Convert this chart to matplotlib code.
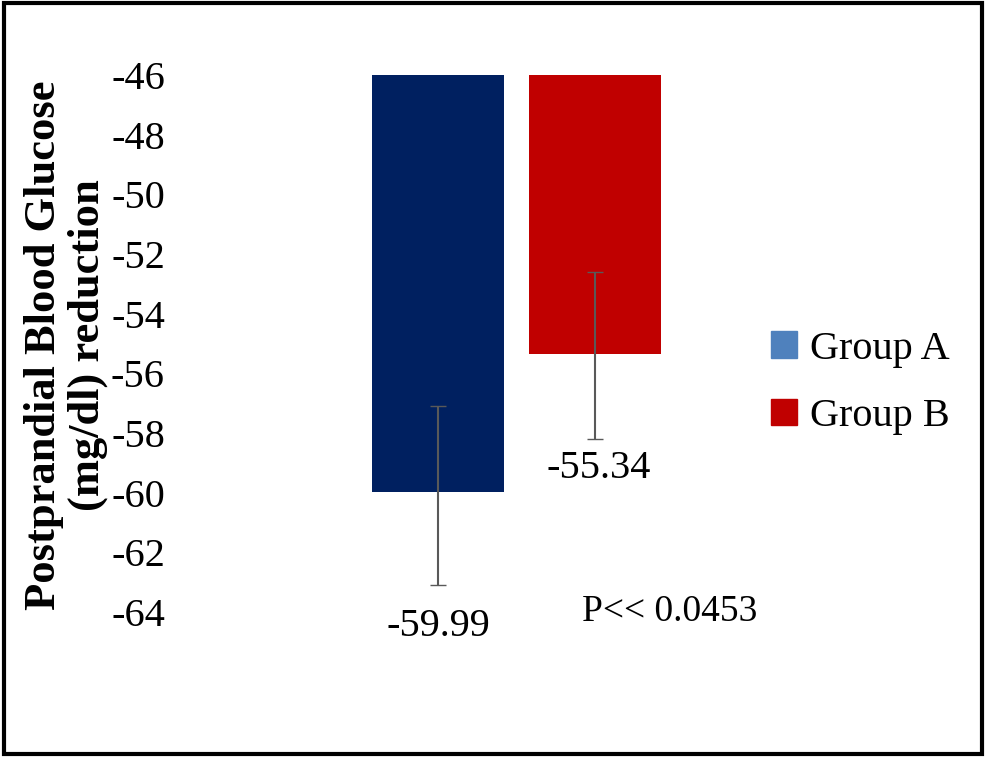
import matplotlib.pyplot as plt
from matplotlib.patches import Rectangle, Patch

groups = ["Group A", "Group B"]
means = [-59.99, -55.34]
err_low = [-63.1, -58.2]
err_high = [-57.1, -52.6]
labels = ["-59.99", "-55.34"]
colors = ["#002060", "#C00000"]
legend_colors = ["#4F81BD", "#C00000"]
yticks = list(range(-64, -45, 2))

W, H = 986, 757
fig = plt.figure(figsize=(W / 100, H / 100), dpi=100)
plt.rcParams['font.family'] = ['Liberation Serif', 'DejaVu Serif']

# outer black frame
fig.patches.append(Rectangle((0.004, 0.004), 0.992, 0.992, transform=fig.transFigure,
                             fill=False, lw=3, ec="black"))

ax = fig.add_axes([190 / W, 1 - 612 / H, 530 / W, (612 - 75) / H])
xpos = [248, 405]
top = -46
for i in range(2):
    ax.bar(xpos[i], means[i] - top, bottom=top, width=132, color=colors[i])
    ax.errorbar(xpos[i], (err_low[i] + err_high[i]) / 2,
                yerr=(err_high[i] - err_low[i]) / 2, fmt="none",
                ecolor="#595959", elinewidth=1.5, capsize=6)
ax.text(xpos[0], -64.5, labels[0], ha="center", va="center", fontsize=29)
ax.text(xpos[1] + 4, -59.2, labels[1], ha="center", va="center", fontsize=29)
ax.text(480, -64.0, "P<< 0.0453", ha="center", va="center", fontsize=27)

ax.set_xlim(0, 530)
ax.set_ylim(-64, -46)
ax.set_yticks(yticks)
ax.set_yticklabels([str(t) for t in yticks], fontsize=29)
ax.tick_params(axis="y", length=0, pad=18)
ax.set_xticks([])
for s in ax.spines.values():
    s.set_visible(False)

fig.text(66 / W, 1 - 345 / H, "Postprandial Blood Glucose\n(mg/dl) reduction",
         rotation=90, ha="center", va="center", fontsize=32, fontweight="bold",
         linespacing=1.1)

handles = [Patch(color=c) for c in legend_colors]
fig.legend(handles, groups, loc="center left", bbox_to_anchor=(735 / W, 1 - 383 / H),
           frameon=False, fontsize=29, handlelength=0.65, handleheight=0.65,
           handletextpad=0.3, labelspacing=0.75)

fig.savefig("out.png", dpi=100)
